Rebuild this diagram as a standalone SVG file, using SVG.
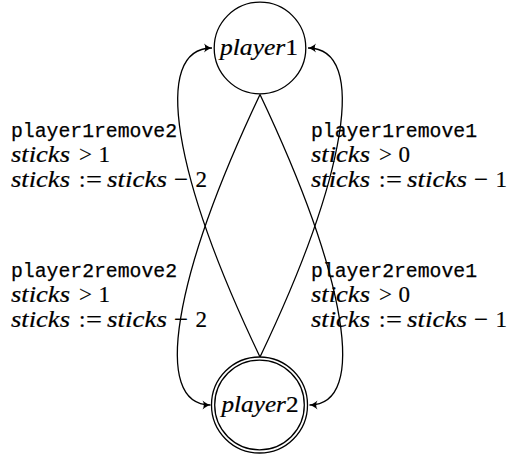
<svg xmlns="http://www.w3.org/2000/svg" width="509" height="457" viewBox="0 0 509 457">
  <style>
    .state { fill: #fff; stroke: #000; stroke-width: 1.3; }
    .edge { fill: none; stroke: #000; stroke-width: 1.3; marker-end: url(#tip); }
    .math { font-family: "Liberation Serif", "DejaVu Serif", serif; font-size: 23px; fill: #000; stroke: #000; stroke-width: 0.2; }
    .it { font-style: italic; }
    .tt { font-family: "Liberation Mono", "DejaVu Sans Mono", monospace; font-size: 20px; fill: #000; stroke: #000; stroke-width: 0.25; }
  </style>
  <defs>
    <marker id="tip" markerUnits="userSpaceOnUse" orient="auto" refX="0" refY="0" markerWidth="12" markerHeight="12" overflow="visible">
      <path d="M0,0 C-2,-0.6 -5,-2 -8,-4.5 C-6.3,-2 -6.3,2 -8,4.5 C-5,2 -2,0.6 0,0 Z" fill="#000"/>
    </marker>
  </defs>

  <rect width="509" height="457" fill="#fff"/>

  <!-- transitions -->
  <g id="connectors">
    <path id="e-p2-p1-left" class="edge" d="M260,357 C174,177 151,48 212,48"/>
    <path id="e-p1-p2-left" class="edge" d="M260,94.5 C174,276 151,405 210.5,405"/>
    <path id="e-p2-p1-right" class="edge" d="M260,357 C346,177 369,48 308,48"/>
    <path id="e-p1-p2-right" class="edge" d="M260,94.5 C346,276 369,405 309.5,405"/>
  </g>

  <!-- states -->
  <g id="player1">
    <circle class="state" cx="260" cy="48" r="45.8"/>
    <text class="math" font-size="24" x="220" y="54.5" textLength="78" lengthAdjust="spacingAndGlyphs"><tspan class="it">player</tspan>1</text>
  </g>
  <g id="player2">
    <circle class="state" cx="259.5" cy="405" r="48"/>
    <circle class="state" cx="259.5" cy="405" r="44.8"/>
    <text class="math" font-size="24" x="221.5" y="411.5" textLength="77" lengthAdjust="spacingAndGlyphs"><tspan class="it">player</tspan>2</text>
  </g>

  <!-- transition labels -->
  <g id="label-player1remove2">
    <text class="tt" x="11" y="136.5" textLength="166" lengthAdjust="spacingAndGlyphs">player1remove2</text>
    <text class="math" y="161.5"><tspan class="it" x="11" textLength="59" lengthAdjust="spacingAndGlyphs">sticks</tspan><tspan x="79" textLength="13" lengthAdjust="spacingAndGlyphs">&gt;</tspan><tspan x="98.5">1</tspan></text>
    <text class="math" y="186.5"><tspan class="it" x="11" textLength="59" lengthAdjust="spacingAndGlyphs">sticks</tspan><tspan x="79">:</tspan><tspan x="86" textLength="16" lengthAdjust="spacingAndGlyphs">=</tspan><tspan class="it" x="107" textLength="60" lengthAdjust="spacingAndGlyphs">sticks</tspan><tspan x="174" textLength="14" lengthAdjust="spacingAndGlyphs">−</tspan><tspan x="195.5">2</tspan></text>
  </g>
  <g id="label-player1remove1">
    <text class="tt" x="311" y="136.5" textLength="166" lengthAdjust="spacingAndGlyphs">player1remove1</text>
    <text class="math" y="161.5"><tspan class="it" x="311" textLength="59" lengthAdjust="spacingAndGlyphs">sticks</tspan><tspan x="379" textLength="13" lengthAdjust="spacingAndGlyphs">&gt;</tspan><tspan x="398.5">0</tspan></text>
    <text class="math" y="186.5"><tspan class="it" x="311" textLength="59" lengthAdjust="spacingAndGlyphs">sticks</tspan><tspan x="379">:</tspan><tspan x="386" textLength="16" lengthAdjust="spacingAndGlyphs">=</tspan><tspan class="it" x="407" textLength="60" lengthAdjust="spacingAndGlyphs">sticks</tspan><tspan x="474" textLength="14" lengthAdjust="spacingAndGlyphs">−</tspan><tspan x="495.5">1</tspan></text>
  </g>
  <g id="label-player2remove2">
    <text class="tt" x="11" y="276.5" textLength="166" lengthAdjust="spacingAndGlyphs">player2remove2</text>
    <text class="math" y="301.5"><tspan class="it" x="11" textLength="59" lengthAdjust="spacingAndGlyphs">sticks</tspan><tspan x="79" textLength="13" lengthAdjust="spacingAndGlyphs">&gt;</tspan><tspan x="98.5">1</tspan></text>
    <text class="math" y="326.5"><tspan class="it" x="11" textLength="59" lengthAdjust="spacingAndGlyphs">sticks</tspan><tspan x="79">:</tspan><tspan x="86" textLength="16" lengthAdjust="spacingAndGlyphs">=</tspan><tspan class="it" x="107" textLength="60" lengthAdjust="spacingAndGlyphs">sticks</tspan><tspan x="174" textLength="14" lengthAdjust="spacingAndGlyphs">−</tspan><tspan x="195.5">2</tspan></text>
  </g>
  <g id="label-player2remove1">
    <text class="tt" x="311" y="276.5" textLength="166" lengthAdjust="spacingAndGlyphs">player2remove1</text>
    <text class="math" y="301.5"><tspan class="it" x="311" textLength="59" lengthAdjust="spacingAndGlyphs">sticks</tspan><tspan x="379" textLength="13" lengthAdjust="spacingAndGlyphs">&gt;</tspan><tspan x="398.5">0</tspan></text>
    <text class="math" y="326.5"><tspan class="it" x="311" textLength="59" lengthAdjust="spacingAndGlyphs">sticks</tspan><tspan x="379">:</tspan><tspan x="386" textLength="16" lengthAdjust="spacingAndGlyphs">=</tspan><tspan class="it" x="407" textLength="60" lengthAdjust="spacingAndGlyphs">sticks</tspan><tspan x="474" textLength="14" lengthAdjust="spacingAndGlyphs">−</tspan><tspan x="495.5">1</tspan></text>
  </g>
</svg>
